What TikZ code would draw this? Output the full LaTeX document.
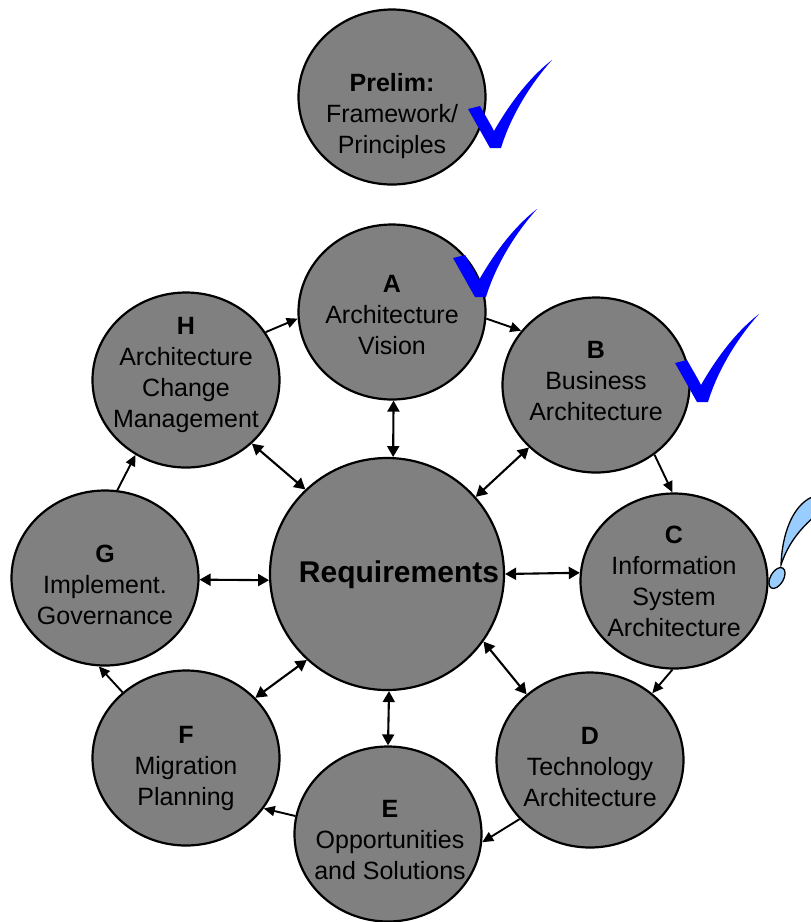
\documentclass[tikz,border=0pt]{standalone}
\usepackage{fontspec}
\setmainfont{Liberation Sans}
\usetikzlibrary{shapes.geometric,arrows.meta}
\definecolor{phasegray}{RGB}{128,128,128}
\definecolor{checkblue}{RGB}{0,0,255}
\definecolor{dropblue}{RGB}{153,204,255}
\begin{document}
\begin{tikzpicture}[x=1pt,y=-1pt,
 phase/.style={ellipse,draw=black,line width=2.2pt,fill=phasegray,minimum width=187pt,minimum height=175pt,inner sep=0pt},
 reqc/.style={phase,minimum width=234pt,minimum height=232pt},
 lbl/.style={align=center,font=\fontsize{25}{31}\selectfont,inner sep=0pt},
 ring/.style={line width=1.9pt,-{Triangle[length=11pt,width=10pt]}},
 dbl/.style={line width=2.1pt,{Triangle[length=11pt,width=12pt]}-{Triangle[length=11pt,width=12pt]}},
 checkmark/.style={fill=checkblue,draw=none}]
\useasboundingbox (0,0) rectangle (811,922);
% circles
\node[phase] (P) at (392,97) {};
\node[phase] (A) at (392,312) {};
\node[phase] (B) at (596,385) {};
\node[phase] (C) at (674,581) {};
\node[phase] (D) at (590,760) {};
\node[phase] (E) at (388,834) {};
\node[phase] (F) at (186,758) {};
\node[phase] (G) at (105,578) {};
\node[phase] (H) at (186,380) {};
\node[reqc] (R) at (387,574) {};
% labels
\node[lbl] (tP) at (392,116) {\textbf{Prelim:}\\Framework/\\Principles};
\node[lbl] (tA) at (392,315) {\textbf{A}\\Architecture\\Vision};
\node[lbl] (tB) at (596,381) {\textbf{B}\\Business\\Architecture};
\node[lbl] (tC) at (674,581) {\textbf{C}\\Information\\System\\Architecture};
\node[lbl] (tD) at (590,767) {\textbf{D}\\Technology\\Architecture};
\node[lbl] (tE) at (390,840) {\textbf{E}\\Opportunities\\and Solutions};
\node[lbl] (tF) at (186,768) {\textbf{F}\\Migration\\Planning};
\node[lbl] (tG) at (105,585) {\textbf{G}\\Implement.\\Governance};
\node[lbl] (tH) at (186,375) {\textbf{H}\\Architecture\\Change\\Management};
\node[inner sep=0pt,font=\fontsize{30}{36}\selectfont\bfseries] (tR) at (399,575) {Requirements};
% ring arrows
\draw[ring] (H.31) -- (A.184);
\draw[ring] (A.-4) -- (B.144);
\draw[ring] (B.-50) -- (C.91);
\draw[ring] (C.-91) -- (D.47);
\draw[ring] (D.220) -- (E.-5);
\draw[ring] (E.169) -- (F.-33);
\draw[ring] (F.134) -- (G.-94);
\draw[ring] (G.82) -- (H.236);
% requirement arrows
\draw[dbl] (A.-89) -- (R.87);
\draw[dbl] (B.223) -- (R.41);
\draw[dbl] (C.175) -- (R.0);
\draw[dbl] (D.134) -- (R.-35);
\draw[dbl] (E.90) -- (R.-89);
\draw[dbl] (F.41) -- (R.227);
\draw[dbl] (G.-1) -- (R.183);
\draw[dbl] (H.-44) -- (R.134);
% check marks
\foreach \tx/\ty in {490/148, 475/297, 697/402}{
  \fill[checkmark,shift={(\tx,\ty)}] (0,0) -- (-22,-39) -- (-10,-42)
    .. controls (-5,-33) and (0,-25) .. (4,-17)
    .. controls (16,-38) and (36,-68) .. (62,-88)
    .. controls (44,-68) and (22,-36) .. (11,0) -- cycle;
}
% exclamation mark
\begin{scope}
\clip (0,0) rectangle (811,922);
\draw[fill=dropblue,line width=1.3pt] (781,565) .. controls (782,535) and (792,506) .. (812,497) -- (820,497) -- (820,512)
  .. controls (802,526) and (788,543) .. (781,565) -- cycle;
\draw[fill=dropblue,line width=1.3pt,shift={(777,578)},rotate=-30] (0,0) ellipse [x radius=6.5, y radius=11.5];
\end{scope}
\end{tikzpicture}
\end{document}
